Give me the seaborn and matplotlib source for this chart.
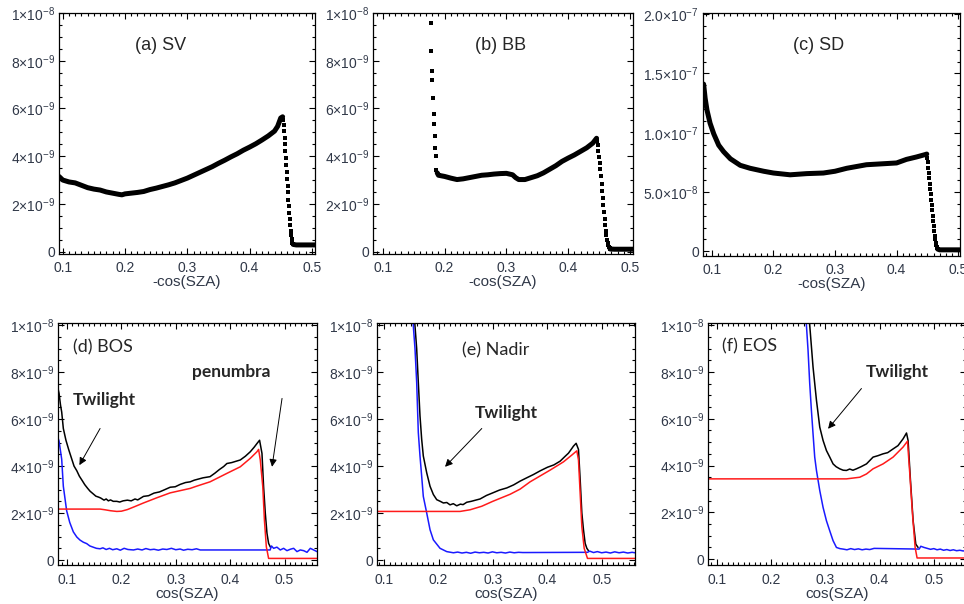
import numpy as np
import matplotlib
matplotlib.use("Agg")
import matplotlib.pyplot as plt
from matplotlib.ticker import MultipleLocator, FixedLocator, FixedFormatter
import seaborn as sns

# ---------------- data ----------------
# top row: y in units of 1e-9 (SV, BB) and 1e-8 (SD)
sv_x = [0.094, 0.10, 0.11, 0.12, 0.13, 0.14, 0.15, 0.16, 0.17, 0.18, 0.19, 0.195, 0.20, 0.21,
        0.22, 0.23, 0.24, 0.25, 0.26, 0.27, 0.28, 0.29, 0.30, 0.31, 0.32, 0.33, 0.34, 0.35,
        0.36, 0.37, 0.38, 0.39, 0.40, 0.41, 0.42, 0.43, 0.44, 0.445, 0.45, 0.453]
sv_y = [3.15, 3.0, 2.92, 2.88, 2.78, 2.68, 2.62, 2.58, 2.5, 2.45, 2.4, 2.38, 2.42, 2.45,
        2.48, 2.52, 2.6, 2.66, 2.73, 2.8, 2.88, 2.98, 3.08, 3.2, 3.32, 3.44, 3.56, 3.7,
        3.83, 3.97, 4.1, 4.25, 4.38, 4.52, 4.68, 4.85, 5.05, 5.25, 5.6, 5.65]
sv_drop_x = [0.4540, 0.4547, 0.4554, 0.4561, 0.4568, 0.4575, 0.4582, 0.4589, 0.4596, 0.4603,
             0.4610, 0.4617, 0.4624, 0.4631, 0.4638, 0.4645, 0.4652, 0.4659, 0.4666, 0.4673,
             0.4680, 0.4687, 0.4694, 0.4701]
sv_drop_y = [5.50, 5.30, 5.05, 4.78, 4.50, 4.20, 3.92, 3.62, 3.33, 3.05, 2.76, 2.48, 2.18,
             1.90, 1.62, 1.36, 1.10, 0.88, 0.68, 0.52, 0.42, 0.36, 0.32, 0.30]
sv_tail_x = [0.4701, 0.475, 0.48, 0.49, 0.50, 0.505]
sv_tail_y = [0.30, 0.28, 0.28, 0.28, 0.28, 0.28]

bb_spike_x = [0.1784, 0.1786, 0.1800, 0.1802, 0.1811, 0.1822, 0.1827, 0.1838, 0.1849, 0.1854, 0.1865]
bb_spike_y = [9.6, 8.4, 7.55, 7.2, 6.45, 5.75, 5.35, 4.85, 4.35, 4.0, 3.4]
bb_x = [0.188, 0.19, 0.20, 0.21, 0.22, 0.23, 0.24, 0.25, 0.26, 0.27, 0.28, 0.29, 0.30, 0.31,
        0.315, 0.32, 0.33, 0.34, 0.35, 0.36, 0.37, 0.38, 0.39, 0.40, 0.41, 0.42, 0.43, 0.44, 0.446]
bb_y = [3.3, 3.2, 3.15, 3.08, 3.02, 3.05, 3.1, 3.15, 3.2, 3.22, 3.25, 3.27, 3.28, 3.22,
        3.1, 3.02, 3.02, 3.1, 3.18, 3.3, 3.45, 3.6, 3.78, 3.92, 4.05, 4.2, 4.35, 4.55, 4.75]
bb_drop_x = [0.447, 0.448, 0.449, 0.450, 0.451, 0.452, 0.453, 0.454, 0.455, 0.456, 0.457,
             0.458, 0.459, 0.460, 0.461, 0.462, 0.463, 0.464, 0.465, 0.466, 0.467, 0.468]
bb_drop_y = [4.65, 4.45, 4.2, 3.95, 3.7, 3.45, 3.15, 2.85, 2.55, 2.25, 1.95, 1.65, 1.38,
             1.12, 0.88, 0.68, 0.5, 0.36, 0.26, 0.19, 0.14, 0.11]
bb_tail_x = [0.468, 0.475, 0.48, 0.49, 0.50, 0.505]
bb_tail_y = [0.11, 0.1, 0.1, 0.1, 0.1, 0.1]

sd_x = [0.0865, 0.089, 0.092, 0.097, 0.103, 0.111, 0.119, 0.13, 0.146, 0.162, 0.184, 0.20,
        0.227, 0.254, 0.281, 0.30, 0.319, 0.351, 0.384, 0.40, 0.416, 0.432, 0.446, 0.449]
sd_y = [14.1, 12.9, 11.9, 10.8, 9.9, 8.95, 8.4, 7.8, 7.25, 7.0, 6.75, 6.6,
        6.45, 6.55, 6.6, 6.75, 7.0, 7.3, 7.4, 7.45, 7.75, 7.95, 8.15, 8.2]
sd_drop_x = [0.4500, 0.4508, 0.4516, 0.4524, 0.4532, 0.4540, 0.4548, 0.4556, 0.4564, 0.4572,
             0.4580, 0.4588, 0.4596, 0.4604, 0.4612, 0.4620, 0.4628, 0.4636, 0.4644, 0.4652,
             0.4660, 0.4668]
sd_drop_y = [7.90, 7.50, 7.05, 6.60, 6.15, 5.70, 5.25, 4.80, 4.35, 3.90, 3.45, 3.00, 2.55,
             2.10, 1.70, 1.32, 1.00, 0.72, 0.50, 0.34, 0.24, 0.18]
sd_tail_x = [0.4668, 0.47, 0.48, 0.49, 0.50, 0.503]
sd_tail_y = [0.18, 0.12, 0.12, 0.12, 0.12, 0.12]

# bottom row: y in units of 1e-9 ; black = total, blue = twilight, red = penumbra
bos_black_x = [0.0834, 0.0853, 0.0880, 0.0902, 0.0932, 0.0980, 0.1031, 0.1080, 0.1129, 0.1180,
               0.1227, 0.1280, 0.1326, 0.1380, 0.1424, 0.1480, 0.1530, 0.1580, 0.1620, 0.1680,
               0.1720, 0.1760, 0.1800, 0.1850, 0.1915, 0.1970, 0.2030, 0.2111, 0.2180, 0.2250,
               0.2300, 0.2406, 0.2500, 0.2600, 0.2700, 0.2800, 0.2897, 0.2990, 0.3080, 0.3180,
               0.3265, 0.3340, 0.3420, 0.3500, 0.3630, 0.3720, 0.3800, 0.3880, 0.3940, 0.4030,
               0.4100, 0.4186, 0.4280, 0.4370, 0.4440, 0.4493, 0.4541, 0.4585, 0.4615, 0.4646,
               0.4677, 0.4707, 0.4740]
bos_black_y = [7.3, 7.1, 6.6, 6.3, 5.6, 5.1, 4.7, 4.35, 4.0, 3.8,
               3.57, 3.38, 3.21, 3.05, 2.93, 2.82, 2.72, 2.68, 2.64, 2.55,
               2.6, 2.52, 2.56, 2.5, 2.5, 2.47, 2.52, 2.55, 2.52, 2.6,
               2.56, 2.71, 2.74, 2.85, 2.9, 3.0, 3.1, 3.12, 3.22, 3.3,
               3.33, 3.4, 3.45, 3.5, 3.55, 3.7, 3.85, 3.98, 4.11, 4.15,
               4.2, 4.26, 4.42, 4.61, 4.8, 4.96, 5.1, 4.54, 3.12, 2.0,
               1.14, 0.71, 0.55]
bos_blue_x = [0.0834, 0.0853, 0.0902, 0.0932, 0.0993, 0.1050, 0.1116, 0.1180, 0.1239, 0.1300,
              0.1362, 0.1420, 0.1480, 0.1540, 0.1608, 0.1660, 0.1720, 0.1780, 0.1840, 0.1915,
              0.1980, 0.2050, 0.2120, 0.2222, 0.2300, 0.2380, 0.2450, 0.2530, 0.2600, 0.2680,
              0.2760, 0.2836, 0.2920, 0.3000, 0.3080, 0.3143, 0.3220, 0.3300, 0.3380, 0.3450,
              0.4735, 0.4760, 0.4799, 0.4860, 0.4922, 0.4983, 0.5045, 0.5106, 0.5167, 0.5229,
              0.5290, 0.5352, 0.5413, 0.5474, 0.5536, 0.5597]
bos_blue_y = [5.2, 5.07, 4.29, 3.14, 2.1, 1.6, 1.2, 0.98, 0.85, 0.76,
              0.7, 0.6, 0.55, 0.5, 0.48, 0.52, 0.45, 0.5, 0.44, 0.48,
              0.42, 0.5, 0.45, 0.43, 0.47, 0.43, 0.49, 0.44, 0.46, 0.42,
              0.47, 0.45, 0.5, 0.44, 0.47, 0.42, 0.46, 0.44, 0.48, 0.43,
              0.43, 0.6, 0.5, 0.55, 0.43, 0.5, 0.4, 0.46, 0.5, 0.36,
              0.43, 0.4, 0.33, 0.5, 0.43, 0.36]
bos_red_x = [0.0834, 0.1608, 0.1700, 0.1800, 0.1915, 0.2000, 0.2111, 0.2250, 0.2406, 0.2650,
             0.2897, 0.3265, 0.3390, 0.3630, 0.3880, 0.3940, 0.4186, 0.4370, 0.4493, 0.4523,
             0.4554, 0.4600, 0.4630, 0.4665, 0.4707, 0.5597]
bos_red_y = [2.17, 2.17, 2.14, 2.1, 2.07, 2.08, 2.15, 2.28, 2.43, 2.65,
             2.86, 3.05, 3.15, 3.33, 3.62, 3.69, 3.97, 4.33, 4.61, 4.71,
             4.26, 3.12, 1.7, 0.57, 0.07, 0.07]

nadir_black_x = [0.1503, 0.1565, 0.1596, 0.1626, 0.1657, 0.1688, 0.1718, 0.1781, 0.1842, 0.1903,
                 0.1965, 0.2030, 0.2087, 0.2150, 0.2210, 0.2270, 0.2333, 0.2400, 0.2450, 0.2517,
                 0.2600, 0.2680, 0.2762, 0.2880, 0.2996, 0.3120, 0.3254, 0.3380, 0.3499, 0.3620,
                 0.3744, 0.3870, 0.4002, 0.4120, 0.4236, 0.4320, 0.4389, 0.4451, 0.4481, 0.4530,
                 0.4573, 0.4604, 0.4635, 0.4665, 0.4696, 0.4727, 0.4757]
nadir_black_y = [12.0, 9.97, 9.0, 7.57, 6.14, 5.14, 4.43, 3.71, 3.14, 2.79,
                 2.57, 2.5, 2.43, 2.45, 2.35, 2.4, 2.31, 2.38, 2.36, 2.46,
                 2.5, 2.55, 2.6, 2.75, 2.86, 2.98, 3.07, 3.2, 3.36, 3.5,
                 3.64, 3.8, 3.95, 4.05, 4.21, 4.4, 4.55, 4.75, 4.85, 4.97,
                 4.71, 3.43, 2.0, 1.29, 0.71, 0.5, 0.4]
nadir_blue_x = [0.1503, 0.1534, 0.1565, 0.1596, 0.1626, 0.1657, 0.1688, 0.1718, 0.1781, 0.1842,
                0.1903, 0.2026, 0.2149, 0.2272, 0.2350, 0.2430, 0.2510, 0.2590, 0.2670, 0.2750,
                0.2830, 0.2910, 0.2990, 0.3070, 0.3150, 0.3230, 0.3310, 0.3390, 0.3470, 0.3550,
                0.4740, 0.4780, 0.4850, 0.4920, 0.5000, 0.5080, 0.5160, 0.5240, 0.5320, 0.5400,
                0.5480, 0.5560, 0.5613]
nadir_blue_y = [12.0, 9.97, 9.0, 7.57, 5.43, 4.43, 3.57, 2.71, 2.0, 1.29,
                0.86, 0.5, 0.36, 0.31, 0.34, 0.3, 0.33, 0.29, 0.34, 0.31,
                0.33, 0.3, 0.35, 0.31, 0.33, 0.3, 0.34, 0.31, 0.33, 0.32,
                0.33, 0.38, 0.32, 0.36, 0.31, 0.34, 0.3, 0.35, 0.31, 0.34,
                0.3, 0.33, 0.31]
nadir_red_x = [0.0866, 0.2394, 0.2578, 0.2793, 0.2996, 0.3315, 0.3499, 0.3683, 0.4052, 0.4297,
               0.4451, 0.4543, 0.4573, 0.4604, 0.4635, 0.4678, 0.4739, 0.5613]
nadir_red_y = [2.07, 2.07, 2.14, 2.29, 2.5, 2.8, 3.02, 3.33, 3.83, 4.18,
               4.47, 4.65, 4.26, 2.84, 1.42, 0.5, 0.07, 0.07]

eos_black_x = [0.2652, 0.2714, 0.2775, 0.2838, 0.2899, 0.2960, 0.3022, 0.3083, 0.3144, 0.3200,
               0.3267, 0.3330, 0.3391, 0.3450, 0.3510, 0.3575, 0.3660, 0.3760, 0.3881, 0.3970,
               0.4065, 0.4150, 0.4250, 0.4340, 0.4434, 0.4497, 0.4526, 0.4570, 0.4619, 0.4668,
               0.4710]
eos_black_y = [12.0, 10.0, 8.21, 6.79, 5.64, 5.07, 4.64, 4.36, 4.07, 3.95,
               3.86, 3.8, 3.79, 3.85, 3.8, 3.86, 3.95, 4.07, 4.36, 4.42,
               4.5, 4.55, 4.71, 4.85, 5.14, 5.39, 5.07, 3.36, 1.64, 0.64,
               0.5]
eos_blue_x = [0.2590, 0.2653, 0.2683, 0.2714, 0.2745, 0.2775, 0.2806, 0.2838, 0.2899, 0.2960,
              0.3022, 0.3083, 0.3144, 0.3206, 0.3270, 0.3329, 0.3400, 0.3470, 0.3540, 0.3610,
              0.3680, 0.3750, 0.3820, 0.3900, 0.4730, 0.4760, 0.4820, 0.4880, 0.4940, 0.5000,
              0.5060, 0.5120, 0.5180, 0.5240, 0.5300, 0.5360, 0.5420, 0.5480, 0.5540, 0.5590]
eos_blue_y = [12.0, 10.0, 8.93, 7.5, 6.36, 5.36, 4.36, 3.79, 2.93, 2.21,
              1.64, 1.21, 0.79, 0.5, 0.45, 0.43, 0.4, 0.45, 0.41, 0.44,
              0.4, 0.43, 0.41, 0.46, 0.43, 0.55, 0.5, 0.46, 0.42, 0.45,
              0.4, 0.43, 0.38, 0.41, 0.37, 0.4, 0.36, 0.38, 0.35, 0.36]
eos_red_x = [0.0840, 0.3391, 0.3636, 0.3760, 0.3881, 0.4065, 0.4250, 0.4434, 0.4515, 0.4558,
             0.4607, 0.4656, 0.4692, 0.5590]
eos_red_y = [3.43, 3.43, 3.5, 3.64, 3.86, 4.07, 4.36, 4.79, 5.04, 3.64,
             1.93, 0.5, 0.05, 0.05]

x_ticks = [0.1, 0.2, 0.3, 0.4, 0.5]
x_tick_labels = ["0.1", "0.2", "0.3", "0.4", "0.5"]
y_ticks_e9 = [0, 2, 4, 6, 8, 10]
y_tick_labels_e9 = ["0", r"2×10$^{-9}$", r"4×10$^{-9}$", r"6×10$^{-9}$", r"8×10$^{-9}$", r"1×10$^{-8}$"]
y_ticks_sd = [0, 5, 10, 15, 20]
y_tick_labels_sd = ["0", r"5.0×10$^{-8}$", r"1.0×10$^{-7}$", r"1.5×10$^{-7}$", r"2.0×10$^{-7}$"]

# ---------------- style ----------------
sns.set_style("ticks")
plt.rcParams["font.family"] = ["Liberation Sans", "DejaVu Sans"]
plt.rcParams["mathtext.fontset"] = "custom"
plt.rcParams["mathtext.rm"] = "Liberation Sans"
plt.rcParams["mathtext.default"] = "regular"

TICK_COLOR = "#303848"
W, H = 964, 604
fig = plt.figure(figsize=(W / 100, H / 100), dpi=100)


def box(left, right, top, bottom):
    # pixel box -> figure fraction rect
    return [left / W, 1 - bottom / H, (right - left) / W, (bottom - top) / H]


def style_axes(ax, xlim, ylim, yticks, ylabels, yminor, xlabel, xpad, scale):
    ax.set_xlim(*xlim)
    ax.set_ylim(ylim[0] * scale, ylim[1] * scale)
    ax.xaxis.set_major_locator(FixedLocator(x_ticks))
    ax.xaxis.set_major_formatter(FixedFormatter(x_tick_labels))
    ax.xaxis.set_minor_locator(MultipleLocator(0.01))
    ax.yaxis.set_major_locator(FixedLocator([v * scale for v in yticks]))
    ax.yaxis.set_major_formatter(FixedFormatter(ylabels))
    ax.yaxis.set_minor_locator(MultipleLocator(yminor * scale))
    ax.tick_params(which="both", direction="in", top=True, right=True, colors="black",
                   labelcolor=TICK_COLOR, labelsize=10, width=0.8)
    ax.tick_params(which="major", length=4.5)
    ax.tick_params(which="minor", length=2.2)
    ax.tick_params(axis="x", pad=xpad)
    ax.tick_params(axis="y", pad=3)
    for s in ax.spines.values():
        s.set_visible(True)
        s.set_linewidth(0.9)
        s.set_color("black")
    ax.set_xlabel(xlabel, fontsize=11, color=TICK_COLOR, labelpad=0)
    ax.set_ylabel("")


def dotted_panel(ax, main, drops, tail, scale):
    for xs, ys in [main, tail]:
        sns.lineplot(x=xs, y=[v * scale for v in ys], ax=ax, color="black",
                     linewidth=3.6, estimator=None, sort=False)
    for xs, ys in drops:
        sns.scatterplot(x=xs, y=[v * scale for v in ys], ax=ax, color="black",
                        marker="s", s=6, linewidth=0)


def line_panel(ax, black, blue, red):
    for (xs, ys), c in [(black, "black"), (blue, "#1a1aff"), (red, "#ff1a1a")]:
        sns.lineplot(x=xs, y=[v * 1e-9 for v in ys], ax=ax, color=c,
                     linewidth=1.1, estimator=None, sort=False)


# ---------------- top row ----------------
ax_a = fig.add_axes(box(59, 315, 13, 254))
dotted_panel(ax_a, (sv_x, sv_y), [(sv_drop_x, sv_drop_y)], (sv_tail_x, sv_tail_y), 1e-9)
style_axes(ax_a, (0.094, 0.505), (-0.1, 10.0), y_ticks_e9, y_tick_labels_e9, 0.5,
           "-cos(SZA)", 5, 1e-9)
ax_a.text(0.395, 0.865, "(a) SV", transform=ax_a.transAxes, ha="center", va="center", fontsize=13)

ax_b = fig.add_axes(box(373, 633, 13, 254))
dotted_panel(ax_b, (bb_x, bb_y), [(bb_spike_x, bb_spike_y), (bb_drop_x, bb_drop_y)],
             (bb_tail_x, bb_tail_y), 1e-9)
style_axes(ax_b, (0.084, 0.505), (-0.1, 10.0), y_ticks_e9, y_tick_labels_e9, 0.5,
           "-cos(SZA)", 5, 1e-9)
ax_b.text(0.49, 0.865, "(b) BB", transform=ax_b.transAxes, ha="center", va="center", fontsize=13)

ax_c = fig.add_axes(box(703, 960, 13, 256))
dotted_panel(ax_c, (sd_x, sd_y), [(sd_drop_x, sd_drop_y)], (sd_tail_x, sd_tail_y), 1e-8)
style_axes(ax_c, (0.0855, 0.503), (-0.4, 20.1), y_ticks_sd, y_tick_labels_sd, 1.0,
           "-cos(SZA)", 5, 1e-8)
ax_c.text(0.449, 0.865, "(c) SD", transform=ax_c.transAxes, ha="center", va="center", fontsize=13)

# ---------------- bottom row ----------------
label_font = dict(family=["Lato", "DejaVu Sans"], fontsize=13)
note_font = dict(family=["Lato", "DejaVu Sans"], fontsize=12.5, fontweight="bold")
arrow = dict(arrowstyle="-|>", color="black", lw=0.7, mutation_scale=11, shrinkA=0, shrinkB=0)

ax_d = fig.add_axes(box(58, 317, 323, 565))
line_panel(ax_d, (bos_black_x, bos_black_y), (bos_blue_x, bos_blue_y), (bos_red_x, bos_red_y))
style_axes(ax_d, (0.0834, 0.5597), (-0.21, 10.09), y_ticks_e9, y_tick_labels_e9, 0.5,
           "cos(SZA)", 6, 1e-9)
ax_d.text(0.172, 0.90, "(d) BOS", transform=ax_d.transAxes, ha="center", va="center", **label_font)
ax_d.text(0.168, 6.8e-9, "Twilight", ha="center", va="center", **note_font)
ax_d.annotate("", xy=(0.1227, 4.04e-9), xytext=(0.1608, 5.6e-9), arrowprops=arrow)
ax_d.text(0.402, 8.0e-9, "penumbra", ha="center", va="center", **note_font)
ax_d.annotate("", xy=(0.477, 3.97e-9), xytext=(0.4954, 6.88e-9), arrowprops=arrow)

ax_e = fig.add_axes(box(377, 635, 323, 565))
line_panel(ax_e, (nadir_black_x, nadir_black_y), (nadir_blue_x, nadir_blue_y),
           (nadir_red_x, nadir_red_y))
style_axes(ax_e, (0.0866, 0.5613), (-0.21, 10.09), y_ticks_e9, y_tick_labels_e9, 0.5,
           "cos(SZA)", 6, 1e-9)
ax_e.text(0.46, 0.888, "(e) Nadir", transform=ax_e.transAxes, ha="center", va="center", **label_font)
ax_e.text(0.3238, 6.26e-9, "Twilight", ha="center", va="center", **note_font)
ax_e.annotate("", xy=(0.2118, 3.97e-9), xytext=(0.2794, 5.6e-9), arrowprops=arrow)

ax_f = fig.add_axes(box(708, 966, 323, 565))
line_panel(ax_f, (eos_black_x, eos_black_y), (eos_blue_x, eos_blue_y), (eos_red_x, eos_red_y))
style_axes(ax_f, (0.084, 0.5593), (-0.25, 10.09), y_ticks_e9, y_tick_labels_e9, 0.5,
           "cos(SZA)", 6, 1e-9)
ax_f.text(0.16, 0.905, "(f) EOS", transform=ax_f.transAxes, ha="center", va="center", **label_font)
ax_f.text(0.4327, 8.0e-9, "Twilight", ha="center", va="center", **note_font)
ax_f.annotate("", xy=(0.3052, 5.57e-9), xytext=(0.3667, 7.29e-9), arrowprops=arrow)

fig.savefig("out.png", dpi=100)
